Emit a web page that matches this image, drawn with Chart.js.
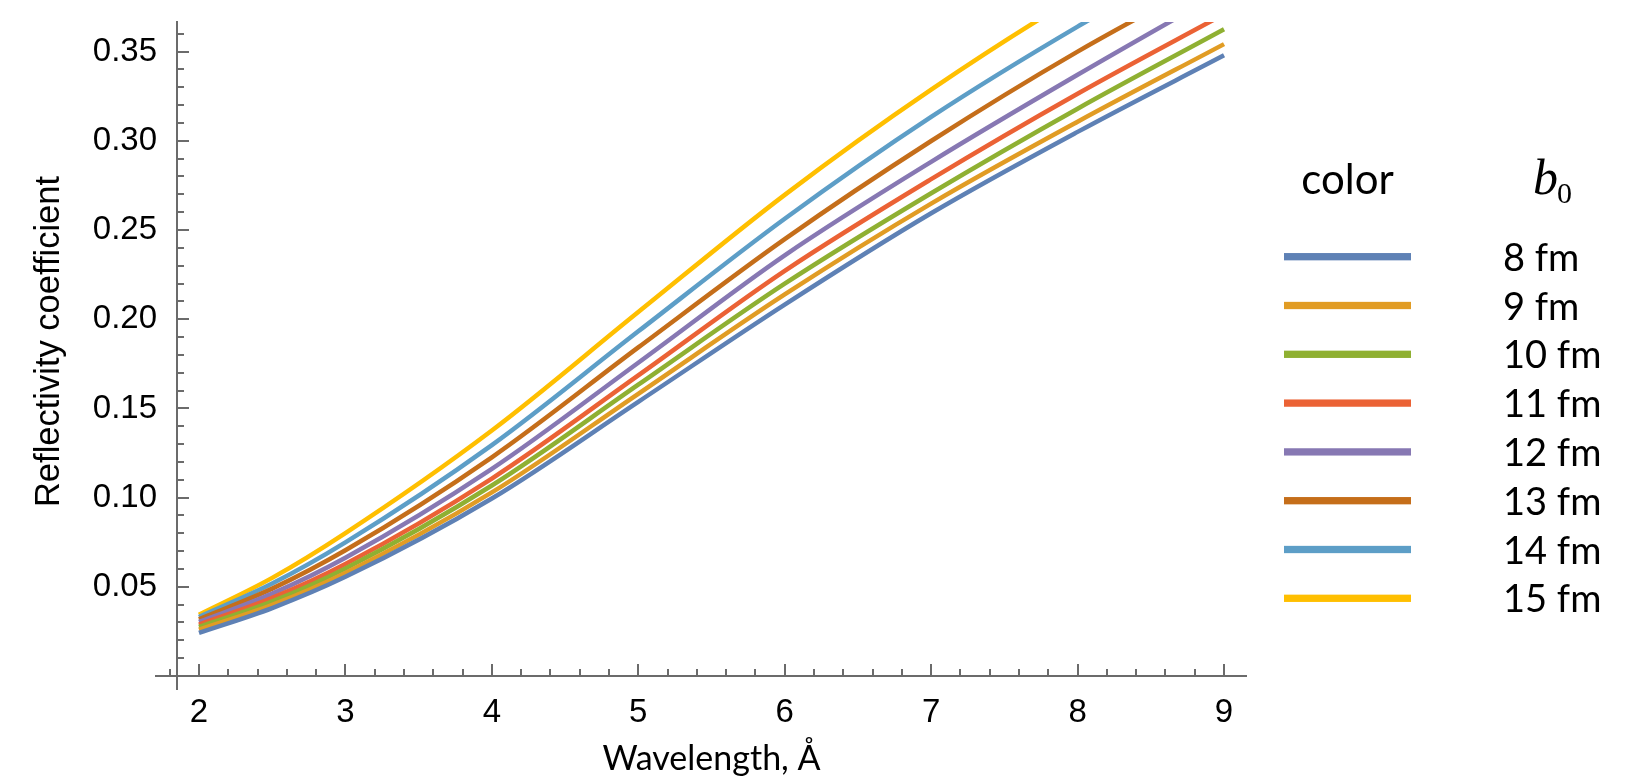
<!DOCTYPE html>
<html>
<head>
<meta charset="utf-8">
<script src="https://cdn.jsdelivr.net/npm/chart.js@4.4.1/dist/chart.umd.min.js"></script>
<style>
  html, body { margin: 0; padding: 0; background: #ffffff; }
  #wrap { width: 1650px; height: 779px; }
</style>
</head>
<body>
<div id="wrap"><canvas id="c" width="1650" height="779"></canvas></div>
<script>
// ---- data ----
const wavelengths = [2, 2.5, 3, 4, 5, 6, 7, 8, 9];
const r8fm  = [0.0242, 0.0381, 0.0556, 0.0995, 0.1537, 0.2082, 0.2594, 0.3050, 0.3479];
const r9fm  = [0.0260, 0.0399, 0.0578, 0.1029, 0.1582, 0.2139, 0.2648, 0.3107, 0.3542];
const r10fm = [0.0275, 0.0418, 0.0603, 0.1068, 0.1633, 0.2199, 0.2706, 0.3180, 0.3625];
const r11fm = [0.0288, 0.0438, 0.0628, 0.1107, 0.1685, 0.2271, 0.2785, 0.3264, 0.3710];
const r12fm = [0.0303, 0.0462, 0.0663, 0.1161, 0.1756, 0.2358, 0.2882, 0.3370, 0.3840];
const r13fm = [0.0318, 0.0490, 0.0705, 0.1226, 0.1842, 0.2449, 0.2999, 0.3500, 0.3950];
const r14fm = [0.0331, 0.0518, 0.0749, 0.1294, 0.1932, 0.2563, 0.3134, 0.3640, 0.4100];
const r15fm = [0.0344, 0.0550, 0.0801, 0.1376, 0.2040, 0.2697, 0.3287, 0.3810, 0.4250];
const seriesLabels = ['8 fm', '9 fm', '10 fm', '11 fm', '12 fm', '13 fm', '14 fm', '15 fm'];
const seriesColors = ['#5E81B5', '#E19C24', '#8FB032', '#EB6235', '#8778B3', '#C56E1A', '#5D9EC7', '#FFBF00'];
const xTickLabels = [2, 3, 4, 5, 6, 7, 8, 9];
const yTickLabels = [0.05, 0.10, 0.15, 0.20, 0.25, 0.30, 0.35];
const xTitle = 'Wavelength, Å';
const yTitle = 'Reflectivity coefficient';
const legendHeaderLeft = 'color';
const legendHeaderRight = 'b';
const legendHeaderSub = '0';

const allSeries = [r8fm, r9fm, r10fm, r11fm, r12fm, r13fm, r14fm, r15fm];
const AXIS_COLOR = '#6b6b6b';

const datasets = allSeries.map((vals, i) => ({
  label: seriesLabels[i],
  data: wavelengths.map((w, j) => ({ x: w, y: vals[j] })),
  borderColor: seriesColors[i],
  backgroundColor: seriesColors[i],
  borderWidth: 4.5,
  pointRadius: 0,
  pointHoverRadius: 0,
  cubicInterpolationMode: 'monotone',
  fill: false
}));

// minor/major tick marks drawn inward, Mathematica style
const tickMarks = {
  id: 'tickMarks',
  afterDraw(chart) {
    const { ctx, chartArea, scales: { x, y } } = chart;
    const y0 = Math.round(y.getPixelForValue(0));
    const xa = Math.round(chartArea.left);
    ctx.save();
    ctx.strokeStyle = AXIS_COLOR;
    ctx.lineWidth = 2;
    ctx.beginPath();
    ctx.moveTo(Math.round(x.getPixelForValue(x.min - 0.15)), y0);
    ctx.lineTo(xa, y0);
    for (let k = 9; k <= 45; k++) {
      const px = Math.round(x.getPixelForValue(k / 5));
      const len = (k % 5 === 0) ? 12 : 7;
      ctx.moveTo(px, y0);
      ctx.lineTo(px, y0 - len);
    }
    for (let k = 1; k <= 36; k++) {
      const py = Math.round(y.getPixelForValue(k / 100));
      const len = (k % 5 === 0) ? 12 : 7;
      ctx.moveTo(xa, py);
      ctx.lineTo(xa + len, py);
    }
    ctx.stroke();
    ctx.restore();
  }
};

// vertical axis title, centred where the reference has it
const yAxisTitle = {
  id: 'yAxisTitle',
  afterDraw(chart) {
    const { ctx } = chart;
    ctx.save();
    ctx.translate(49.5, 341.5);
    ctx.rotate(-Math.PI / 2);
    ctx.fillStyle = '#000';
    ctx.font = '34.5px "Liberation Sans"';
    ctx.textAlign = 'center';
    ctx.textBaseline = 'middle';
    ctx.fillText(yTitle, 0, 0);
    ctx.restore();
  }
};

// two-column legend: "color" swatches and "b0" values
const sideLegend = {
  id: 'sideLegend',
  afterDraw(chart) {
    const { ctx, chartArea } = chart;
    const base = chartArea.right;
    const swX = base + 38, swW = 127, swH = 7.3;
    const txtX = base + 257;
    const row0 = 256.7, rowStep = 48.8;
    ctx.save();
    ctx.fillStyle = '#000';
    ctx.textBaseline = 'alphabetic';
    ctx.textAlign = 'center';
    ctx.font = '42px Lato';
    ctx.fillText(legendHeaderLeft, swX + swW / 2, 194);
    ctx.textAlign = 'left';
    ctx.font = 'italic 50px "Liberation Serif"';
    ctx.fillText(legendHeaderRight, base + 287, 194);
    const bw = ctx.measureText(legendHeaderRight).width;
    ctx.font = '30px "Liberation Serif"';
    ctx.fillText(legendHeaderSub, base + 287 + bw - 1, 203);
    chart.data.datasets.forEach((ds, i) => {
      const cy = row0 + rowStep * i;
      ctx.fillStyle = ds.borderColor;
      ctx.fillRect(swX, cy - swH / 2, swW, swH);
      ctx.fillStyle = '#000';
      ctx.font = '38px Lato';
      ctx.fillText(ds.label, txtX, cy + 14);
    });
    ctx.restore();
  }
};

new Chart(document.getElementById('c'), {
  type: 'line',
  data: { datasets },
  plugins: [tickMarks, yAxisTitle, sideLegend],
  options: {
    responsive: false,
    animation: false,
    devicePixelRatio: 1,
    layout: { padding: { left: 0, right: 404, top: 22, bottom: 0 } },
    plugins: {
      legend: { display: false },
      tooltip: { enabled: false },
      title: {
        display: true,
        position: 'bottom',
        fullSize: false,
        text: xTitle,
        color: '#000',
        font: { family: 'Lato', size: 34, weight: 'normal' },
        padding: { top: 49.2, bottom: 0 }
      }
    },
    scales: {
      x: {
        type: 'linear',
        min: 1.85,
        max: 9.15,
        position: { y: 0 },
        grid: { display: false },
        border: { display: true, color: AXIS_COLOR, width: 2 },
        afterBuildTicks: (s) => { s.ticks = xTickLabels.map(v => ({ value: v })); },
        afterFit: (s) => { s.paddingLeft = 0; s.paddingRight = 0; },
        ticks: {
          color: '#000',
          font: { family: '"Liberation Sans"', size: 33 },
          padding: 9,
          maxRotation: 0,
          autoSkip: false,
          callback: (v) => String(v)
        }
      },
      y: {
        type: 'linear',
        position: 'left',
        min: -0.00728,
        max: 0.3666,
        grid: { display: false },
        border: { display: true, color: AXIS_COLOR, width: 2 },
        afterBuildTicks: (s) => { s.ticks = yTickLabels.map(v => ({ value: v })); },
        afterFit: (s) => { s.width = 177; s.paddingTop = 0; s.paddingBottom = 0; },
        ticks: {
          color: '#000',
          font: { family: '"Liberation Sans"', size: 33 },
          padding: 12,
          autoSkip: false,
          callback: (v) => Number(v).toFixed(2)
        },
        title: { display: false }
      }
    }
  }
});
</script>
</body>
</html>
